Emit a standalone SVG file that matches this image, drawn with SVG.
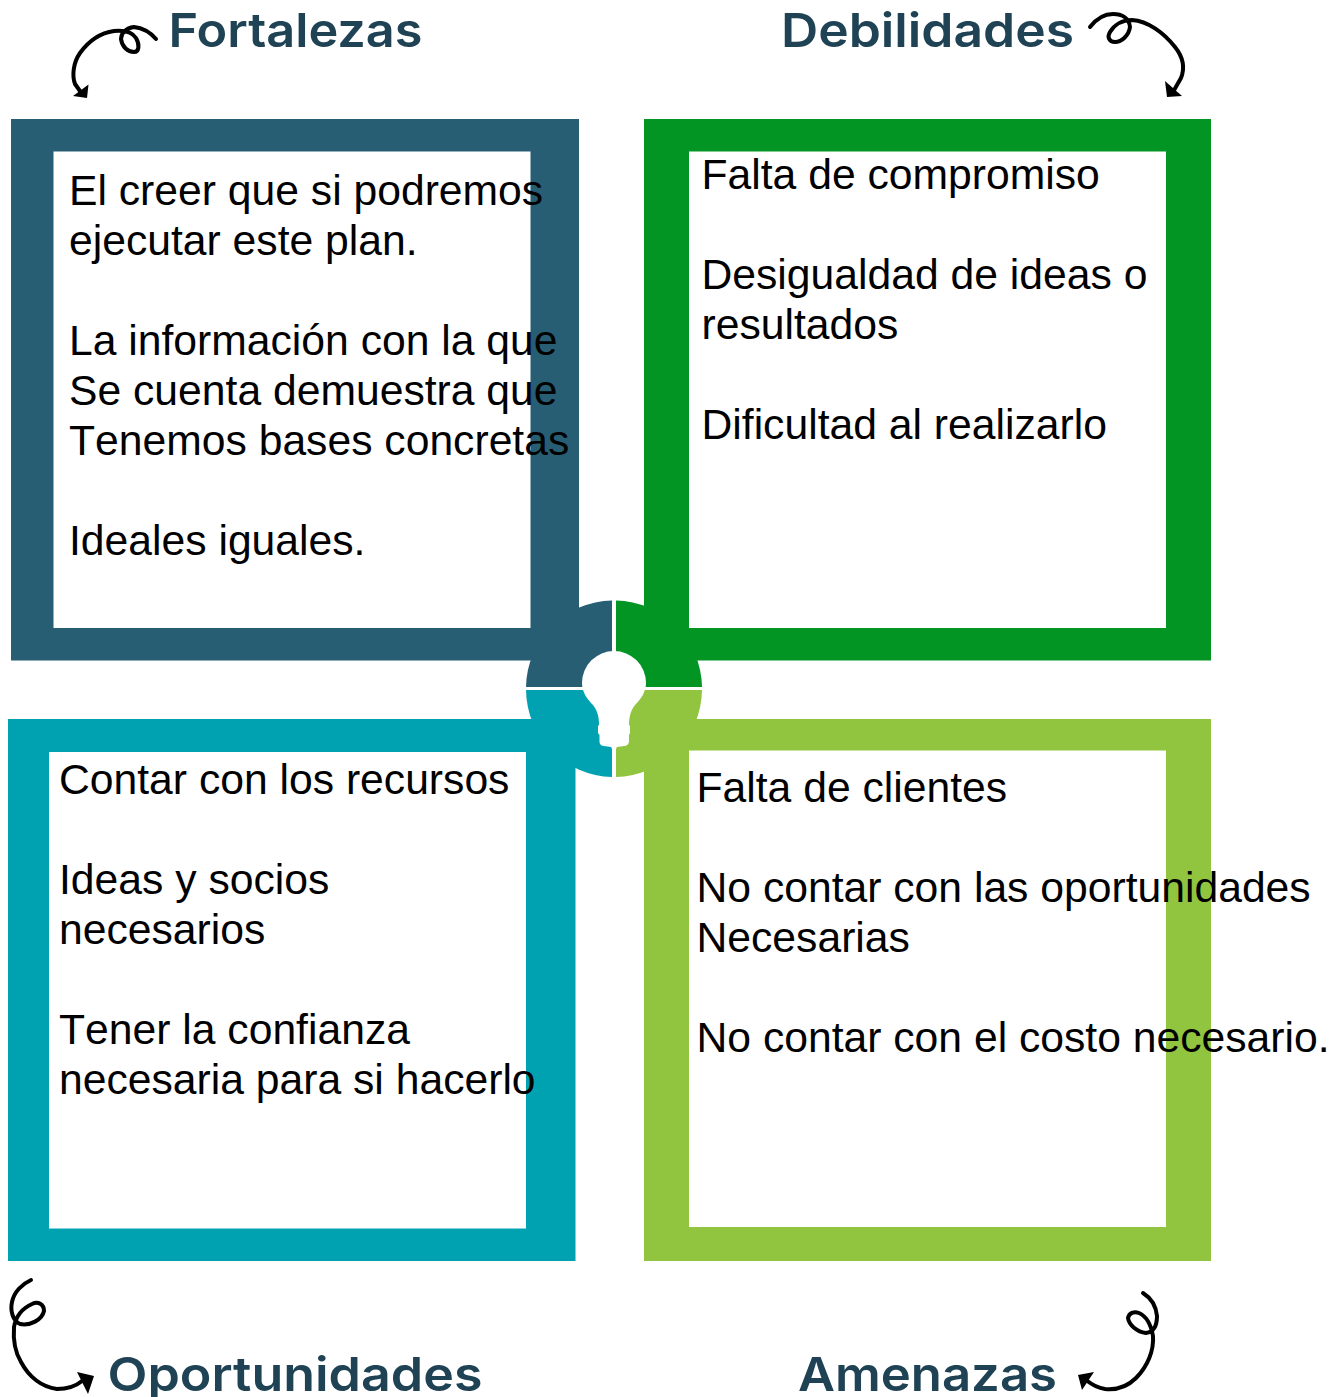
<svg xmlns="http://www.w3.org/2000/svg" width="1342" height="1397" viewBox="0 0 1342 1397">
<style>
.b{font-family:"Liberation Sans",Arial,sans-serif;font-size:42.67px;font-kerning:none;fill:#000}
.h{font-family:Inter,"Open Sans",sans-serif;font-size:47px;font-weight:600;fill:#1f4354}
.c{fill:none;stroke:#000;stroke-width:4;stroke-linecap:round;stroke-linejoin:round}
</style>
<rect width="1342" height="1397" fill="#fff"/>
<g id="node-fortalezas">
<rect x="11" y="119" width="568" height="541.500" fill="#285e73"/>
<rect x="53.500" y="151.500" width="477" height="476.500" fill="#fff"/>
<path d="M612 600.500A88 88 0 0 0 526 687H612Z" fill="#285e73"/>
</g>
<g id="node-debilidades">
<rect x="644" y="119" width="567" height="541.500" fill="#039524"/>
<rect x="689" y="151.500" width="477" height="476.500" fill="#fff"/>
<path d="M616 600.500A88 88 0 0 1 702 687H616Z" fill="#039524"/>
</g>
<g id="node-oportunidades">
<rect x="8" y="719" width="567.500" height="542" fill="#00a2b2"/>
<rect x="49" y="752" width="477" height="476.500" fill="#fff"/>
<path d="M612 777A88 88 0 0 1 526 690H612Z" fill="#00a2b2"/>
</g>
<g id="node-amenazas">
<rect x="644" y="719" width="567" height="542" fill="#91c540"/>
<rect x="689" y="750.500" width="477" height="476.500" fill="#fff"/>
<path d="M616 777A88 88 0 0 0 702 690H616Z" fill="#91c540"/>
</g>
<g id="bulb">
<path d="M614 651A32 32 0 0 1 646 683C646 692 641 699 635 705C631 710 629 716 629 725L630 726V733L629 735V742Q628 746 624 746L617 747L615.500 750H612.500L611 747L604 746Q600 746 599.500 742V735L598 733V726L599 725C599 716 597 710 593 705C587 699 582 692 582 683A32 32 0 0 1 614 651Z" fill="#fff"/>
</g>
<g id="connectors">
<path class="c" d="M156 39C150 32 143 28 134 27C126 28 121 33 121 39C122 47 128 52 134 52C139 52 140 45 136 38C132 32 124 30 114 31C100 33 88 42 80 53C73 63 72 76 75 84L80 91"/>
<path d="M88.500 84.500L87 98L73 96Z" fill="#000"/>
<path class="c" d="M1090 27C1097 18 1105 14 1113 14C1122 14 1129 18 1130 27C1129 35 1122 42 1115 42C1109 42 1107 37 1110 32C1114 25 1122 20 1132 20C1148 21 1164 33 1175 47C1183 57 1185 68 1181 78L1173 92"/>
<path d="M1165 81L1182 96L1167 97Z" fill="#000"/>
<path class="c" d="M31 1280C22 1284 14 1292 12 1302C10 1311 13 1321 20 1324C30 1326 42 1320 44 1311C44 1304 38 1301 32 1304C23 1308 16 1316 14 1327C13 1340 15 1352 21 1362C29 1377 42 1387 57 1389C67 1389 76 1386 82 1381"/>
<path d="M77 1372L94 1376L88 1394Z" fill="#000"/>
<path class="c" d="M1143 1293C1151 1298 1156 1306 1157 1316C1157 1325 1154 1332 1146 1333C1137 1332 1129 1325 1128 1318C1129 1313 1134 1311 1139 1313C1146 1316 1151 1325 1153 1336C1154 1350 1148 1366 1136 1378C1127 1387 1115 1390 1105 1389C1098 1388 1091 1384 1086 1380"/>
<path d="M1078 1375L1094 1372L1082 1390Z" fill="#000"/>
</g>
<g id="labels">
<text class="h" x="168.500" y="47" textLength="254" lengthAdjust="spacingAndGlyphs">Fortalezas</text>
<text class="h" x="781" y="47" textLength="293" lengthAdjust="spacingAndGlyphs">Debilidades</text>
<text class="h" x="107.500" y="1390.500" textLength="375" lengthAdjust="spacingAndGlyphs">Oportunidades</text>
<text class="h" x="798" y="1390.500" textLength="259" lengthAdjust="spacingAndGlyphs">Amenazas</text>
<text class="b" x="69" y="205">El creer que si podremos</text>
<text class="b" x="69" y="255">ejecutar este plan.</text>
<text class="b" x="69" y="355">La información con la que</text>
<text class="b" x="69" y="405">Se cuenta demuestra que</text>
<text class="b" x="69" y="455">Tenemos bases concretas</text>
<text class="b" x="69" y="555">Ideales iguales.</text>
<text class="b" x="701.500" y="189">Falta de compromiso</text>
<text class="b" x="701.500" y="289">Desigualdad de ideas o</text>
<text class="b" x="701.500" y="339">resultados</text>
<text class="b" x="701.500" y="439">Dificultad al realizarlo</text>
<text class="b" x="59" y="794">Contar con los recursos</text>
<text class="b" x="59" y="894">Ideas y socios</text>
<text class="b" x="59" y="944">necesarios</text>
<text class="b" x="59" y="1044">Tener la confianza</text>
<text class="b" x="59" y="1094">necesaria para si hacerlo</text>
<text class="b" x="696.500" y="802">Falta de clientes</text>
<text class="b" x="696.500" y="902">No contar con las oportunidades</text>
<text class="b" x="696.500" y="952">Necesarias</text>
<text class="b" x="696.500" y="1052">No contar con el costo necesario.</text>
</g>
</svg>
